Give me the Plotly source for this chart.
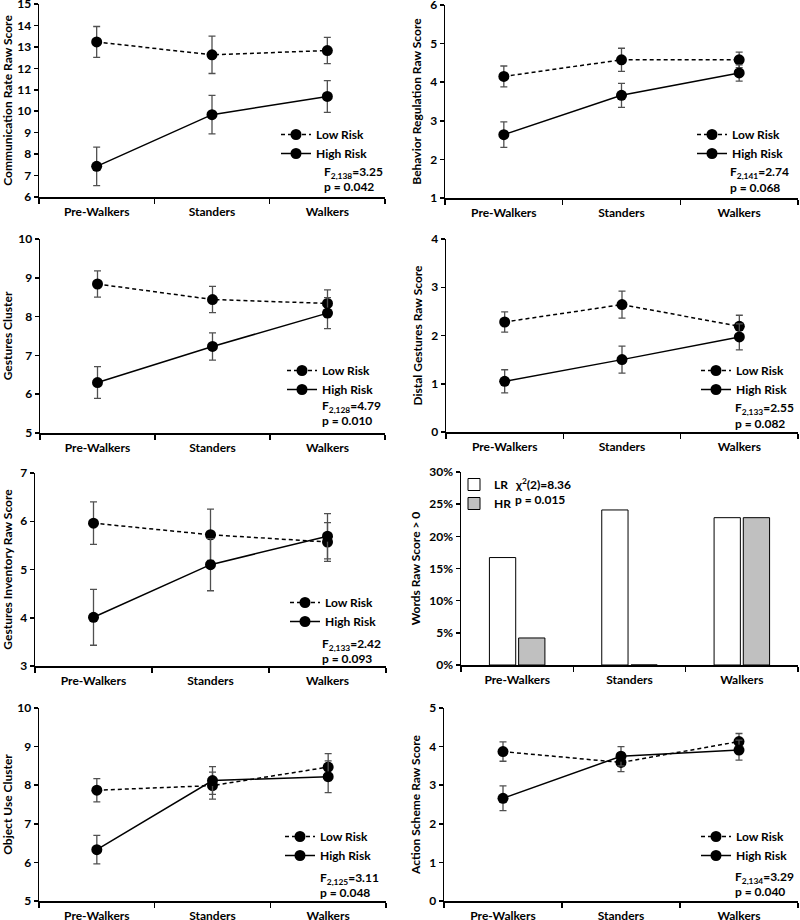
import plotly.graph_objects as go

# ---------------- data ----------------
categories = ["Pre-Walkers", "Standers", "Walkers"]
cat_pos = [1, 2, 3]

comm_low = [13.23, 12.63, 12.83]
comm_low_err = [0.72, 0.87, 0.61]
comm_high = [7.43, 9.84, 10.69]
comm_high_err = [0.90, 0.90, 0.74]

behav_low = [4.15, 4.58, 4.58]
behav_low_err = [0.27, 0.30, 0.20]
behav_high = [2.64, 3.66, 4.24]
behav_high_err = [0.33, 0.31, 0.21]

gest_low = [8.84, 8.44, 8.34]
gest_low_err = [0.34, 0.34, 0.35]
gest_high = [6.30, 7.23, 8.09]
gest_high_err = [0.41, 0.35, 0.40]

distal_low = [2.28, 2.64, 2.19]
distal_low_err = [0.21, 0.28, 0.23]
distal_high = [1.05, 1.50, 1.97]
distal_high_err = [0.24, 0.28, 0.27]

inv_low = [5.96, 5.72, 5.57]
inv_low_err = [0.44, 0.53, 0.40]
inv_high = [4.01, 5.10, 5.69]
inv_high_err = [0.58, 0.54, 0.47]

words_lr = [16.7, 24.1, 22.9]
words_hr = [4.2, 0.0, 22.9]

obj_low = [7.87, 7.99, 8.47]
obj_low_err = [0.30, 0.35, 0.35]
obj_high = [6.33, 8.12, 8.22]
obj_high_err = [0.37, 0.36, 0.41]

act_low = [3.87, 3.59, 4.13]
act_low_err = [0.25, 0.24, 0.21]
act_high = [2.66, 3.75, 3.91]
act_high_err = [0.32, 0.25, 0.26]

y_titles = ["Communication Rate Raw Score", "Behavior Regulation Raw Score",
            "Gestures Cluster", "Distal Gestures Raw Score",
            "Gestures Inventory Raw Score", "Words Raw Score > 0",
            "Object Use Cluster", "Action Scheme Raw Score"]
y_ranges = [[6, 15], [1, 6], [5, 10], [0, 4], [3, 7], [0, 30], [5, 10], [0, 5]]
stat_lines = ["F<sub>2,138</sub>=3.25", "F<sub>2,141</sub>=2.74", "F<sub>2,128</sub>=4.79",
              "F<sub>2,133</sub>=2.55", "F<sub>2,133</sub>=2.42", "χ<sup>2</sup>(2)=8.36",
              "F<sub>2,125</sub>=3.11", "F<sub>2,134</sub>=3.29"]
p_lines = ["p = 0.042", "p = 0.068", "p = 0.010", "p = 0.082", "p = 0.093",
           "p = 0.015", "p = 0.048", "p = 0.040"]

line_series = {
    1: (comm_low, comm_low_err, comm_high, comm_high_err),
    2: (behav_low, behav_low_err, behav_high, behav_high_err),
    3: (gest_low, gest_low_err, gest_high, gest_high_err),
    4: (distal_low, distal_low_err, distal_high, distal_high_err),
    5: (inv_low, inv_low_err, inv_high, inv_high_err),
    7: (obj_low, obj_low_err, obj_high, obj_high_err),
    8: (act_low, act_low_err, act_high, act_high_err),
}

# ---------------- layout geometry (pixels) ----------------
W, H = 800, 920
boxes = {  # left, right, top, bottom
    1: (39, 385, 4, 197), 2: (445, 798, 5, 198),
    3: (40, 385, 239, 433), 4: (446, 798, 239, 432),
    5: (35, 386, 473, 666), 6: (461, 798, 472, 665),
    7: (39, 386, 708, 901), 8: (444, 798, 708, 901),
}
legend_pos = {1: (276, 120), 2: (692, 120), 3: (282, 356), 4: (696, 356),
              5: (285, 588), 6: (454, 470), 7: (280, 822), 8: (696, 822)}
stat_pos = {1: (322, 172, 186), 2: (728, 173, 187), 3: (320, 407, 421),
            4: (733, 408, 423), 5: (320, 644, 658), 6: (513, 484, 499),
            7: (318, 878, 892), 8: (733, 877, 891)}

FONT = "Lato"
fx = lambda v: v / W
fy = lambda v: 1 - v / H

fig = go.Figure()
layout = dict(
    width=W, height=H, margin=dict(l=0, r=0, t=0, b=0, pad=0, autoexpand=False),
    paper_bgcolor="white", plot_bgcolor="white",
    font=dict(family=FONT, size=12, color="black", weight="bold"),
    showlegend=True, bargap=0.48, bargroupgap=0.1, barmode="group",
)
annotations = []

for i in range(1, 9):
    xa = "x" if i == 1 else f"x{i}"
    ya = "y" if i == 1 else f"y{i}"
    leg = "legend" if i == 1 else f"legend{i}"
    l, r, t, b = boxes[i]
    if i == 6:
        fig.add_trace(go.Bar(x=cat_pos, y=words_lr, name="LR", xaxis=xa, yaxis=ya,
                             legend=leg, marker=dict(color="white", line=dict(color="black", width=1))))
        fig.add_trace(go.Bar(x=cat_pos, y=words_hr, name="HR", xaxis=xa, yaxis=ya,
                             legend=leg, marker=dict(color="#c0c0c0", line=dict(color="black", width=1))))
    else:
        low, low_err, high, high_err = line_series[i]
        for vals, errs, name, dash in [(low, low_err, "Low Risk", "4px,3px"),
                                       (high, high_err, "High Risk", "solid")]:
            fig.add_trace(go.Scatter(
                x=cat_pos, y=vals, name=name, mode="lines+markers", xaxis=xa, yaxis=ya,
                legend=leg,
                line=dict(color="black", width=1.5, dash=dash),
                marker=dict(color="black", size=11, symbol="circle"),
                error_y=dict(type="data", array=errs, visible=True, color="#505050",
                             thickness=1.3, width=3.5),
            ))
    layout["xaxis" if i == 1 else f"xaxis{i}"] = dict(
        domain=[fx(l), fx(r)], anchor=ya, range=[0.5, 3.5],
        tickmode="array", tickvals=cat_pos, ticktext=categories,
        ticks="outside", ticklen=3, tickcolor="rgba(0,0,0,0)",
        showline=True, linecolor="black", linewidth=1.5, showgrid=False, zeroline=False,
        minor=dict(tickmode="array", tickvals=[0.5, 1.5, 2.5, 3.5], ticks="outside",
                   ticklen=5, tickcolor="black", tickwidth=1.5, showgrid=False),
        tickfont=dict(family=FONT, size=12, color="black", weight="bold"),
        ticklabeloverflow="allow",
        fixedrange=True, automargin=False,
    )
    layout["yaxis" if i == 1 else f"yaxis{i}"] = dict(
        domain=[fy(b), fy(t)], anchor=xa, range=y_ranges[i - 1],
        dtick=5 if i == 6 else 1, ticksuffix="%" if i == 6 else "",
        ticks="outside", ticklen=4, tickcolor="black", tickwidth=1.5,
        showline=True, linecolor="black", linewidth=1.5, showgrid=False, zeroline=False,
        tickfont=dict(family=FONT, size=12, color="black", weight="bold"),
        ticklabeloverflow="allow",
        title=dict(text=y_titles[i - 1], font=dict(family=FONT, size=12, color="black", weight="bold"),
                   standoff=6),
        fixedrange=True, automargin=False,
    )
    lx, ly = legend_pos[i]
    layout[leg] = dict(x=fx(lx), y=fy(ly), xanchor="left", yanchor="top",
                       bgcolor="rgba(0,0,0,0)", borderwidth=0, tracegroupgap=0,
                       font=dict(family=FONT, size=12, color="black", weight="bold"),
                       itemclick=False, itemdoubleclick=False)
    sx, sy1, sy2 = stat_pos[i]
    annotations.append(dict(text=stat_lines[i - 1], x=fx(sx), y=fy(sy1), xref="paper", yref="paper",
                            xanchor="left", yanchor="middle", showarrow=False,
                            font=dict(family=FONT, size=12, color="black", weight="bold")))
    annotations.append(dict(text=p_lines[i - 1], x=fx(sx), y=fy(sy2), xref="paper", yref="paper",
                            xanchor="left", yanchor="middle", showarrow=False,
                            font=dict(family=FONT, size=12, color="black", weight="bold")))

layout["annotations"] = annotations
fig.update_layout(**layout)
fig.write_html("out.html", config={"displayModeBar": False, "staticPlot": True},
               post_script="document.body.style.margin='0';document.body.style.overflow='hidden';")
